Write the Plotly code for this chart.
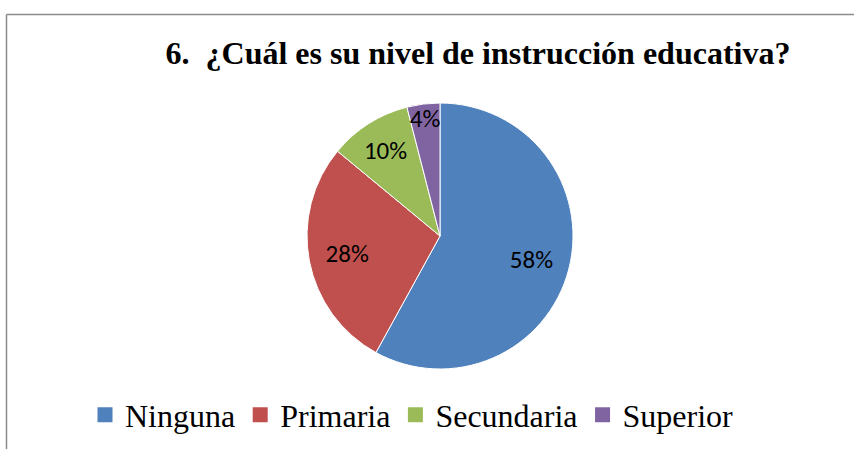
import plotly.graph_objects as go

categories = ["Ninguna", "Primaria", "Secundaria", "Superior"]
values = [58, 28, 10, 4]
colors = ["#4F81BD", "#C0504D", "#9BBB59", "#8064A2"]
title_text = "6.  ¿Cuál es su nivel de instrucción educativa?"

W, H = 854, 449
dom = dict(x=[307 / W, 573 / W], y=[80 / H, 346 / H])
label_font = dict(family="Carlito, Open Sans, Liberation Sans, sans-serif", size=25, color="black")
pct = "%{percent:.0%}"

# main pie: slices and the label of the thin slice
fig = go.Figure(go.Pie(
    labels=categories,
    values=values,
    sort=False,
    direction="clockwise",
    rotation=0,
    marker=dict(colors=colors, line=dict(color="white", width=1)),
    texttemplate=["", "", "", pct],
    textposition="inside",
    insidetextorientation="horizontal",
    textfont=label_font,
    domain=dom,
    showlegend=False,
    hoverinfo="label+percent",
))

# transparent ring carrying the other labels at ~0.7 radius
fig.add_trace(go.Pie(
    labels=categories,
    values=values,
    sort=False,
    direction="clockwise",
    rotation=0,
    hole=0.42,
    marker=dict(colors=["rgba(0,0,0,0)"] * len(values), line=dict(width=0)),
    texttemplate=[pct, pct, pct, ""],
    textposition="inside",
    insidetextorientation="horizontal",
    textfont=label_font,
    domain=dom,
    showlegend=False,
    hoverinfo="skip",
))

# legend entries with larger square keys
for name, col in zip(categories, colors):
    fig.add_trace(go.Scatter(
        x=[None], y=[None], mode="markers", name=name,
        marker=dict(symbol="square", size=15, color=col, line=dict(width=0)),
        hoverinfo="skip",
    ))

fig.update_layout(
    width=W, height=H,
    margin=dict(l=0, r=0, t=0, b=0),
    paper_bgcolor="white",
    plot_bgcolor="rgba(0,0,0,0)",
    xaxis=dict(visible=False),
    yaxis=dict(visible=False),
    title=dict(
        text="<b>" + title_text + "</b>",
        x=478 / W, xanchor="center",
        y=1 - 53 / H, yanchor="middle",
        font=dict(family="Liberation Serif, Times New Roman, serif", size=32, color="black"),
    ),
    legend=dict(
        orientation="h",
        x=412 / W, xanchor="center",
        y=1 - 415 / H, yanchor="middle",
        font=dict(family="Liberation Serif, Times New Roman, serif", size=32, color="black"),
        itemsizing="trace",
        traceorder="normal",
        bgcolor="rgba(0,0,0,0)",
    ),
    uniformtext=dict(minsize=25, mode="show"),
    shapes=[
        dict(type="line", xref="paper", yref="paper",
             x0=6.5 / W, x1=1.01, y0=1 - 14.5 / H, y1=1 - 14.5 / H,
             line=dict(color="#8C8C8C", width=1.5)),
        dict(type="line", xref="paper", yref="paper",
             x0=6.5 / W, x1=6.5 / W, y0=-0.01, y1=1 - 14.5 / H,
             line=dict(color="#8C8C8C", width=1.5)),
    ],
)

fig.write_html("out.html", config={"displayModeBar": False},
               post_script="document.body.style.margin='0px';")
